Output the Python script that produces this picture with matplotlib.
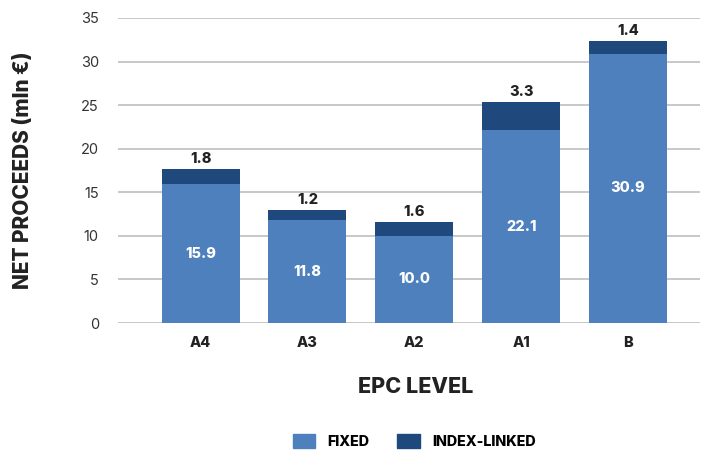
import numpy as np
import matplotlib.pyplot as plt
from matplotlib.patches import Patch

plt.rcParams['font.family'] = ['Inter', 'DejaVu Sans']

levels = ['A4', 'A3', 'A2', 'A1', 'B']
fixed = [15.9, 11.8, 10.0, 22.1, 30.9]
index_linked = [1.8, 1.2, 1.6, 3.3, 1.4]
yticks = [0, 5, 10, 15, 20, 25, 30, 35]

c_fixed = '#4d80bc'
c_index = '#1f487c'
c_text = '#222222'
heavy = 'heavy'

fig = plt.figure(figsize=(7.04, 4.54), dpi=100)
ax = fig.add_axes([0.168, 0.2885, 0.826, 0.672])

x = np.arange(len(levels))
w = 0.73
ax.bar(x, fixed, w, color=c_fixed, zorder=3)
ax.bar(x, index_linked, w, bottom=fixed, color=c_index, zorder=3)

for i in range(len(levels)):
    ax.text(x[i], fixed[i] / 2, f'{fixed[i]:.1f}', ha='center', va='center',
            color='white', fontsize=10.5, fontweight=heavy, zorder=4)
    ax.text(x[i], fixed[i] + index_linked[i] + 0.35, f'{index_linked[i]:.1f}',
            ha='center', va='bottom', color=c_text, fontsize=10.5,
            fontweight=heavy, zorder=4)

ax.set_xlim(-0.77, 4.67)
ax.set_ylim(0, 35)
ax.set_yticks(yticks)
ax.set_xticks(x)
ax.set_xticklabels(levels, fontweight=heavy, fontsize=10.5, color=c_text)
ax.tick_params(axis='y', length=0, pad=14, labelsize=10.5, labelcolor='#333333')
ax.tick_params(axis='x', length=0, pad=9)
ax.grid(axis='y', color='#c4c4c4', linewidth=1.3, zorder=0)
for s in ax.spines.values():
    s.set_visible(False)

ax.set_ylabel('NET PROCEEDS (mln €)', fontsize=15, fontweight=heavy,
              color=c_text, labelpad=34)
ax.set_xlabel('EPC LEVEL', fontsize=15.5, fontweight=heavy, color=c_text)
ax.xaxis.set_label_coords(0.511, -0.177)

handles = [Patch(color=c_fixed, label='FIXED'),
           Patch(color=c_index, label='INDEX-LINKED')]
fig.legend(handles=handles, loc='center', bbox_to_anchor=(0.588, 0.027),
           ncol=2, frameon=False, handlelength=1.6, handleheight=1.1,
           columnspacing=2.0, prop={'weight': heavy, 'size': 10.3})

fig.savefig('out.png', dpi=100)
